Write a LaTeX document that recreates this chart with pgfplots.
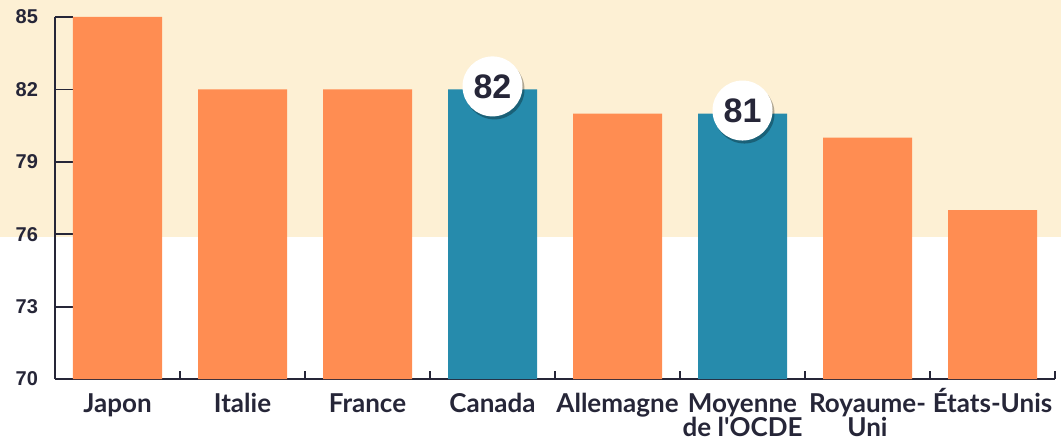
\documentclass[border=0pt]{standalone}
\usepackage{fontspec}
\setmainfont{Lato}
\newfontfamily\numfont{Liberation Sans}
\usepackage{pgfplots}
\pgfplotsset{compat=1.18}
\usetikzlibrary{shadows}
\definecolor{orangebar}{RGB}{255,141,82}
\definecolor{tealbar}{RGB}{38,139,172}
\definecolor{cream}{RGB}{253,240,212}
\definecolor{txt}{RGB}{38,38,56}
\newcommand{\two}[2]{\begin{tabular}[t]{@{}c@{}}#1\\[-1.5pt]#2\end{tabular}}
\begin{document}
\begin{tikzpicture}
\path[use as bounding box] (0,0) rectangle (530.5pt,220pt);
\fill[cream] (0,101.5pt) rectangle (530.5pt,220pt);
\begin{axis}[
  at={(27.5pt,30.5pt)}, anchor=south west,
  scale only axis, width=500pt, height=181pt,
  xmin=-0.5, xmax=7.5, ymin=70, ymax=85,
  axis x line*=bottom, axis y line*=left,
  axis line style={line width=0.9pt, color=txt},
  tick align=inside,
  /pgf/number format/assume math mode=true,
  ytick={70,73,...,85},
  xtick={0,...,7},
  xticklabels={Japon,Italie,France,Canada,Allemagne,{\two{Moyenne}{de l\textquotesingle OCDE}},{\two{Royaume-}{Uni}},États-Unis},
  x tick label style={font=\bfseries\fontsize{13}{13}\selectfont, text=txt, anchor=base, yshift=-16.5pt, inner sep=0pt},
  y tick label style={font=\numfont\bfseries\fontsize{10}{10}\selectfont, text=txt, xshift=-5pt},
  major x tick style={draw=none},
  minor xtick={0.5,1.5,...,7.5},
  major tick length=9pt,
  minor tick length=4pt,
  tick style={line width=0.9pt, color=txt},
  minor tick style={line width=0.6pt, color=txt},
]
\addplot[ybar, bar width=44.5pt, bar shift=0pt, fill=orangebar, draw=none]
  coordinates {(0,85)(1,82)(2,82)(4,81)(6,80)(7,77)};
\addplot[ybar, bar width=44.5pt, bar shift=0pt, fill=tealbar, draw=none,
  nodes near coords,
  nodes near coords style={circle, fill=white, minimum size=30pt, inner sep=0pt,
    anchor=center, yshift=1.5pt, text=txt,
    font=\numfont\bfseries\fontsize{17}{17}\selectfont,
    drop shadow={shadow xshift=1pt, shadow yshift=-1.5pt, fill=black, opacity=0.3}}]
  coordinates {(3,82)(5,81)};
\end{axis}
\end{tikzpicture}
\end{document}
